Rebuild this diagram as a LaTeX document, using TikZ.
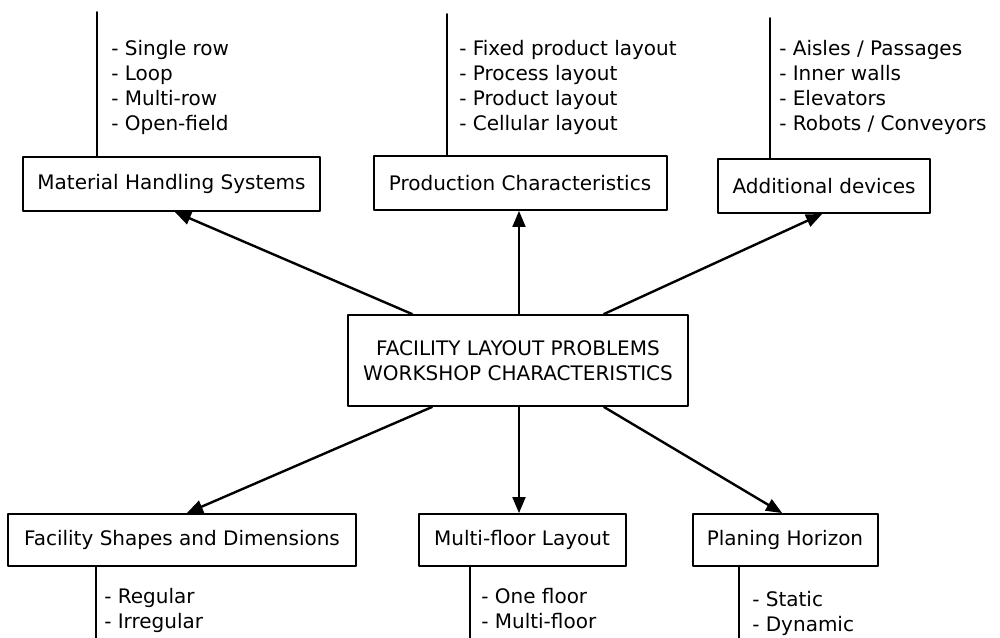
\documentclass[tikz,border=0pt]{standalone}
\usepackage{fontspec}
\setmainfont{DejaVu Sans}
\usetikzlibrary{arrows}

\tikzset{
  box/.style={draw, line width=1.5pt, minimum height=40.5pt, inner sep=2pt,
    font=\fontsize{15}{18.75}\selectfont, align=center},
  item/.style={anchor=base west, inner sep=0pt, font=\fontsize{15}{18.75}\selectfont},
  stem/.style={line width=1.5pt},
  link/.style={->, line width=1.8pt}
}

\begin{document}
\begin{tikzpicture}[line cap=round,line join=round,>=triangle 45,x=0.75pt,y=-0.75pt]
\useasboundingbox (0,0) rectangle (1000,637);

% central node
\node[box, minimum width=255pt, minimum height=68.25pt] (flp) at (518,360.5)
  {FACILITY LAYOUT PROBLEMS\\WORKSHOP CHARACTERISTICS};

% upper row
\node[box, minimum width=222.75pt] (mhs) at (171.5,184) {Material Handling Systems};
\node[box, minimum width=219.75pt] (prod) at (520,183) {Production Characteristics};
\node[box, minimum width=159pt] (dev) at (824,186) {Additional devices};

% lower row
\node[box, minimum width=261pt, minimum height=39pt] (shape) at (182,540) {Facility Shapes and Dimensions};
\node[box, minimum width=155.25pt, minimum height=39pt] (floor) at (522,540) {Multi-floor Layout};
\node[box, minimum width=138.75pt, minimum height=39pt] (hor) at (785,540) {Planing Horizon};

% stems
\coordinate (mhstop) at (97,12);
\coordinate (prodtop) at (447,14);
\coordinate (devtop) at (770,18);
\coordinate (shapebot) at (96,640);
\coordinate (floorbot) at (470,640);
\coordinate (horbot) at (739,640);
\draw[stem] (mhstop) -- (mhstop |- mhs.north);
\draw[stem] (prodtop) -- (prodtop |- prod.north);
\draw[stem] (devtop) -- (devtop |- dev.north);
\draw[stem] (shapebot) -- (shapebot |- shape.south);
\draw[stem] (floorbot) -- (floorbot |- floor.south);
\draw[stem] (horbot) -- (horbot |- hor.south);

% lists
\foreach \t [count=\i from 0] in {Single row, Loop, Multi-row, Open-field}
  \node[item] (mhs-\i) at (111,55+25*\i) {- \t};
\foreach \t [count=\i from 0] in {Fixed product layout, Process layout, Product layout, Cellular layout}
  \node[item] (prod-\i) at (459,55+25*\i) {- \t};
\foreach \t [count=\i from 0] in {Aisles / Passages, Inner walls, Elevators, Robots / Conveyors}
  \node[item] (dev-\i) at (779,55+25*\i) {- \t};
\foreach \t [count=\i from 0] in {Regular, Irregular}
  \node[item] (shape-\i) at (104,603+25*\i) {- \t};
\foreach \t [count=\i from 0] in {One floor, Multi-floor}
  \node[item] (floor-\i) at (481,603+25*\i) {- \t};
\foreach \t [count=\i from 0] in {Static, Dynamic}
  \node[item] (hor-\i) at (752,606+25*\i) {- \t};

% arrows
\draw[link] ([shift={(-106,0)}]flp.north) -- ([shift={(3.5,0)}]mhs.south);
\draw[link] ([shift={(1,0)}]flp.north) -- ([shift={(-1,0)}]prod.south);
\draw[link] ([shift={(86,0)}]flp.north) -- ([shift={(-2,0)}]dev.south);
\draw[link] ([shift={(-86,0)}]flp.south) -- ([shift={(5,0)}]shape.north);
\draw[link] ([shift={(1,0)}]flp.south) -- ([shift={(-3,0)}]floor.north);
\draw[link] ([shift={(86,0)}]flp.south) -- ([shift={(-3,0)}]hor.north);
\end{tikzpicture}
\end{document}
